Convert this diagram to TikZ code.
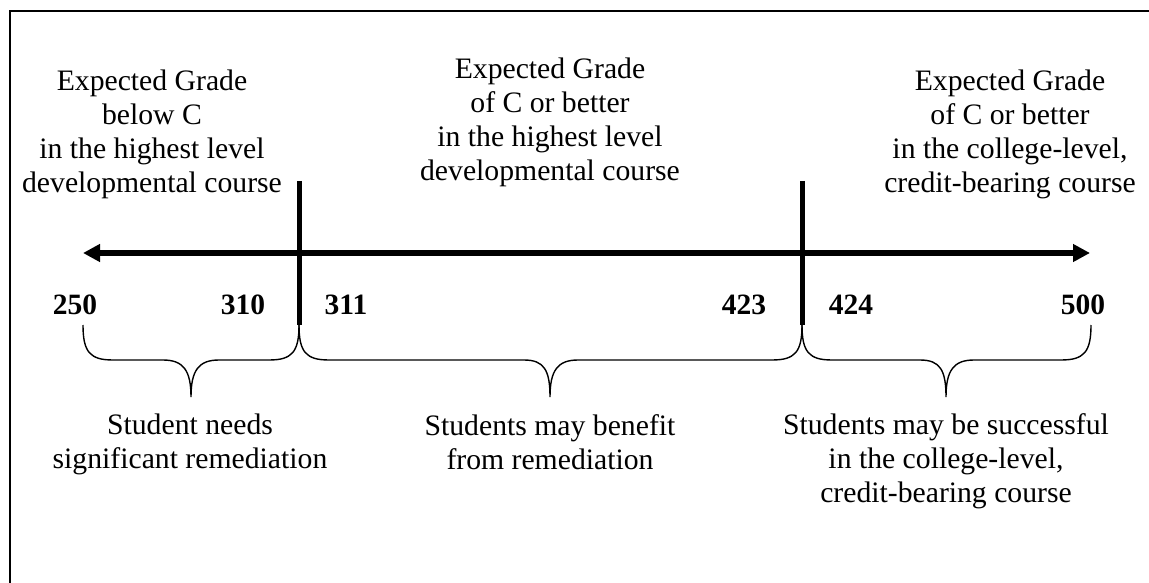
\documentclass[tikz,border=0pt]{standalone}
\usepackage{fontspec}
\setmainfont{Liberation Serif}
\usetikzlibrary{arrows.meta}
\begin{document}
\begin{tikzpicture}[x=1pt,y=-1pt,
  lbl/.style={align=center,inner sep=0pt,font=\fontsize{29.7}{34}\selectfont},
  num/.style={inner sep=0pt,font=\fontsize{29.5}{34}\selectfont\bfseries},
  bar/.style={line width=5pt},
  axis/.style={line width=6pt,{Triangle[length=17pt,width=17pt]}-{Triangle[length=17pt,width=17pt]}},
  brace/.style={line width=1.4pt},
  frame/.style={line width=2pt}]
\useasboundingbox (0,0) rectangle (1149,583);
% frame
\coordinate (fb) at (9.5,583);
\coordinate (fc) at (9.5,11.5);
\coordinate (fr) at (1149,11.5);
\draw[frame] (fb) -- (fc) -- (fr);
% axis
\coordinate (aL) at (83,253);
\coordinate (aR) at (1090,253);
\draw[axis] (aL) -- (aR);
% bars
\coordinate (b1t) at (299,181);
\coordinate (b1b) at (299,325);
\coordinate (b2t) at (802,181);
\coordinate (b2b) at (802,325);
\draw[bar] (b1t) -- (b1b);
\draw[bar] (b2t) -- (b2b);
% top labels
\node[lbl] (t1) at (152,134) {Expected Grade\\below C\\in the highest level\\developmental course};
\node[lbl] (t2) at (550,122) {Expected Grade\\of C or better\\in the highest level\\developmental course};
\node[lbl] (t3) at (1010,134) {Expected Grade\\of C or better\\in the college-level,\\credit-bearing course};
% numbers
\node[num] (n250) at (75,305) {250};
\node[num] (n310) at (243,305) {310};
\node[num] (n311) at (346,305) {311};
\node[num] (n423) at (744,305) {423};
\node[num] (n424) at (851,305) {424};
\node[num] (n500) at (1083,305) {500};
% braces
\draw[brace] (83,325) .. controls (83,352) and (90,360) .. (113,360) -- (163,360)
  .. controls (183,360) and (191,370) .. (191,397)
  .. controls (191,370) and (199,360) .. (219,360) -- (269,360)
  .. controls (292,360) and (299,352) .. (299,325);
\draw[brace] (299,325) .. controls (299,352) and (306,360) .. (329,360) -- (524,360)
  .. controls (544,360) and (550,370) .. (550,397)
  .. controls (550,370) and (558,360) .. (578,360) -- (772,360)
  .. controls (795,360) and (802,352) .. (802,325);
\draw[brace] (802,325) .. controls (802,352) and (809,360) .. (832,360) -- (920,360)
  .. controls (940,360) and (946,370) .. (946,397)
  .. controls (946,370) and (954,360) .. (974,360) -- (1061,360)
  .. controls (1084,360) and (1091,352) .. (1091,325);
% bottom labels
\node[lbl] (s1) at (190,444) {Student needs\\significant remediation};
\node[lbl] (s2) at (550,442) {Students may benefit\\from remediation};
\node[lbl] (s3) at (946,461) {Students may be successful\\in the college-level,\\credit-bearing course};
\end{tikzpicture}
\end{document}
